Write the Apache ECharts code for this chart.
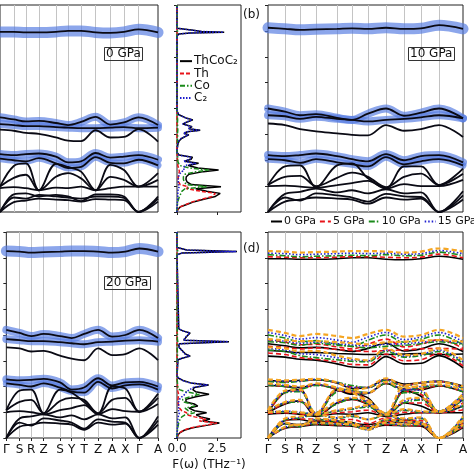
<!DOCTYPE html>
<html><head><meta charset="utf-8">
<script src="https://cdn.jsdelivr.net/npm/echarts@6/dist/echarts.min.js"></script>
<style>html,body{margin:0;padding:0;background:#fff}#c{width:474px;height:474px}</style>
</head><body><div id="c"></div>
<script>
// k-path
const kLabels = ['Γ','S','R','Z','S','Y','T','Z','A','X','Γ','A'];
const kPos = [0,17,32,48,69,84,100,118,136,153,171,195];
const freqMin = 0, freqMax = 40, freqStep = 5;
const dosTicks = [0, 2.5];

// phonon branches (values at each k-point), one array per branch
const bands0 = [
 [34.8,34.8,34.7,34.7,34.8,35.0,35.0,34.7,34.6,34.8,35.3,34.7],
 [18.3,17.9,17.5,17.6,17.2,16.8,17.4,18.4,16.9,17.3,18.3,16.8],
 [17.0,16.8,16.6,16.6,16.4,16.3,16.2,16.2,16.3,16.4,16.2,16.3],
 [15.9,15.7,15.3,15.1,14.4,13.8,13.7,15.8,14.4,14.5,16.0,13.6],
 [11.2,11.0,11.2,11.3,10.7,9.6,9.8,11.4,10.5,10.7,11.0,10.1],
 [10.3,10.0,9.8,10.4,9.4,8.5,8.7,10.6,9.5,9.4,10.1,9.0],
 [4.9,8.9,9.4,4.2,9.3,8.7,7.8,4.2,9.1,8.1,4.9,7.5],
 [4.9,6.6,7.2,4.2,6.8,7.5,6.5,4.2,6.8,6.2,4.9,6.2],
 [4.6,4.8,4.6,4.2,4.7,4.6,4.9,4.2,4.6,4.9,4.9,4.9],
 [0,3.4,3.6,3.0,3.3,3.0,2.1,3.4,3.4,3.0,0,3.0],
 [0,2.8,2.6,3.3,3.0,2.8,2.6,3.0,3.0,2.7,0,2.6],
 [0,1.9,2.2,2.6,2.4,2.3,2.0,2.5,2.4,2.3,0,2.0]
];
const bands5 = [
 [35.2,35.1,35.0,35.0,35.1,35.2,35.2,35.1,35.0,35.1,35.7,35.0],
 [19.1,18.6,18.1,18.2,17.7,17.3,18.2,19.2,17.7,18.2,19.1,17.4],
 [17.8,17.6,17.3,17.5,17.2,17.0,16.8,17.0,17.1,17.3,17.4,17.2],
 [16.5,16.2,15.6,15.3,14.8,14.3,14.2,16.3,15.0,15.2,16.4,14.0],
 [11.1,10.9,11.1,11.3,10.7,9.9,9.8,11.3,10.2,10.7,11.0,9.8],
 [10.2,10.0,9.6,10.3,9.5,8.8,8.7,10.6,9.3,9.6,10.1,9.0],
 [5.0,8.8,9.2,4.5,9.1,9.0,7.2,4.4,9.0,8.5,5.0,8.0],
 [5.0,6.7,7.1,4.6,6.7,7.5,6.6,4.5,6.8,6.8,5.0,6.8],
 [4.8,4.9,4.7,4.4,4.9,5.1,5.4,4.3,5.0,4.9,4.9,5.5],
 [0,3.4,3.7,3.7,3.5,3.6,2.8,3.9,3.5,3.4,0,3.5],
 [0,2.8,2.4,3.4,3.1,2.8,2.3,3.2,3.0,2.8,0,2.9],
 [0,1.9,2.3,2.7,2.5,2.3,1.8,2.6,2.4,2.4,0,2.2]
];
const bands10 = [
 [35.6,35.4,35.2,35.3,35.4,35.5,35.4,35.6,35.4,35.5,36.1,35.4],
 [20.0,19.4,18.7,18.9,18.2,17.8,19.0,20.0,18.6,19.2,20.0,18.1],
 [18.7,18.5,18.0,18.4,18.0,17.8,17.5,17.8,18.0,18.3,18.7,18.1],
 [17.1,16.8,16.0,15.6,15.2,14.9,14.8,16.8,15.7,16.0,16.8,14.5],
 [11.0,10.8,11.0,11.3,10.8,10.2,9.8,11.2,10.0,10.8,11.0,9.6],
 [10.2,10.0,9.5,10.2,9.6,9.2,8.8,10.6,9.2,9.8,10.2,9.0],
 [5.2,8.8,9.0,4.8,9.0,9.4,6.5,4.6,8.8,8.8,5.2,8.4],
 [5.2,6.8,7.0,5.0,6.6,7.6,6.8,4.8,6.8,7.4,5.2,7.4],
 [5.0,5.1,4.9,4.7,5.2,5.6,6.0,4.5,5.4,5.0,5.0,6.2],
 [0,3.5,3.9,4.5,3.8,4.2,3.6,4.4,3.6,3.8,0,4.0],
 [0,2.8,2.2,3.6,3.2,2.8,2.0,3.5,3.0,2.9,0,3.2],
 [0,2.0,2.4,2.8,2.6,2.4,1.6,2.8,2.4,2.6,0,2.4]
];
const bands15 = [
 [35.9,35.8,35.6,35.7,35.8,35.9,35.8,35.9,35.7,35.8,36.4,35.8],
 [20.5,19.9,19.2,19.5,19.0,18.6,19.6,20.5,19.1,19.6,20.5,18.7],
 [19.0,18.8,18.4,18.6,18.3,18.1,17.9,18.2,18.3,18.6,18.9,18.4],
 [17.4,17.1,16.4,16.2,15.6,15.2,15.0,17.1,15.9,16.2,17.1,14.8],
 [11.2,11.0,11.1,11.4,10.8,9.8,9.8,11.4,10.1,10.8,11.0,9.8],
 [10.4,10.2,9.8,10.4,9.7,9.1,8.8,10.8,9.4,10.0,10.3,9.2],
 [5.3,9.0,9.2,4.8,9.2,9.1,6.8,4.7,9.4,9.2,5.2,8.5],
 [5.3,6.9,7.2,4.9,6.9,7.7,7.1,4.8,7.1,7.6,5.2,7.6],
 [5.0,5.2,5.0,4.7,5.3,5.7,6.2,4.6,5.5,5.1,5.0,6.4],
 [0,3.6,4.0,4.6,3.9,4.3,3.6,4.5,3.7,3.9,0,4.1],
 [0,2.9,2.3,3.7,3.3,2.9,1.9,3.6,3.1,3.0,0,3.3],
 [0,2.1,2.5,2.9,2.7,2.5,1.6,2.9,2.5,2.7,0,2.5]
];
const bands20 = [
 [36.3,36.2,36.0,36.1,36.2,36.3,36.3,36.2,36.0,36.2,36.8,36.2],
 [21.0,20.4,19.8,20.2,19.8,19.4,20.2,21.0,19.7,20.0,21.0,19.4],
 [19.2,19.0,18.8,18.8,18.6,18.4,18.2,18.6,18.7,18.9,19.0,18.7],
 [17.6,17.4,16.8,16.9,16.0,15.4,15.1,17.4,16.1,16.3,17.4,15.1],
 [11.4,11.2,11.3,11.5,10.8,9.4,9.8,11.6,10.2,10.8,10.9,10.0],
 [10.6,10.3,10.0,10.6,9.8,9.0,8.8,10.9,9.6,10.2,10.4,9.4],
 [5.4,9.2,9.4,4.8,9.4,8.8,7.0,4.8,10.0,9.6,5.1,8.6],
 [5.4,7.0,7.4,4.8,7.2,7.8,7.4,4.8,7.4,7.8,5.1,7.8],
 [5.0,5.2,5.0,4.6,5.4,5.8,6.4,4.6,5.6,5.2,5.1,6.6],
 [0,3.8,4.2,4.6,4.0,4.4,3.6,4.6,3.8,4.0,0,4.2],
 [0,3.0,2.4,3.8,3.4,3.0,1.8,3.6,3.2,3.0,0,3.4],
 [0,2.2,2.6,3.0,2.8,2.6,1.6,3.0,2.6,2.8,0,2.6]
];
// branches carrying strong C2 weight (fat bands) and their widths
const fatBranches = [0,1,2,4,5];
const fatWidths = [11,8,8,8,7];

// phonon DOS, 0 GPa
const dosW0 = [0,0.5,1,1.5,2,2.5,3,3.3,3.6,4,4.5,4.9,5.3,5.8,6.3,6.8,7.3,7.8,8.1,8.5,9,9.4,9.8,10.2,10.6,11,11.5,12,
  13.3,13.7,14.2,14.6,14.9,15.2,15.5,15.8,16.1,16.5,17.0,17.4,17.8,18.1,18.4,18.8,19.5,
  34.0,34.2,34.4,34.6,34.75,34.9,35.1,35.3,35.5,40];
const dosTot0 = [0,0.05,0.22,0.65,1.08,1.74,2.4,2.35,2.7,1.86,1.17,2.75,0.9,0.63,0.56,0.58,0.75,1.65,2.6,1.3,0.7,1.35,0.48,0.88,0.97,0.13,0,0,
  0.07,0.13,0.28,0.54,0.74,0.43,0.65,1.45,0.74,0.94,0.38,0.63,0.99,0.63,0.52,0.11,0,
  0,0,0.1,0.82,2.95,1.53,1.02,0.92,0,0];
const dosTh0 = [0,0.05,0.2,0.6,1.0,1.6,2.2,2.1,2.4,1.5,0.6,0.7,0.2,0.1,0.08,0.08,0.1,0.15,0.15,0.1,0.05,0.05,0.03,0.03,0.02,0.01,0,0,
  0,0,0,0,0,0,0,0,0,0,0,0,0,0,0,0,0,
  0,0,0,0,0,0,0,0,0,0];
const dosCo0 = [0,0,0.01,0.03,0.05,0.1,0.15,0.2,0.25,0.3,0.5,1.9,0.6,0.45,0.4,0.4,0.5,1.2,2.0,0.8,0.15,0.1,0.05,0.05,0.05,0.02,0,0,
  0.02,0.03,0.03,0.04,0.04,0.03,0.05,0.05,0.04,0.04,0.03,0.03,0.04,0.03,0.02,0.01,0,
  0,0,0,0.02,0.05,0.03,0.02,0.02,0,0];
const dosC0 = [0,0,0.01,0.02,0.03,0.04,0.05,0.05,0.05,0.06,0.07,0.15,0.1,0.08,0.08,0.1,0.15,0.3,0.45,0.4,0.5,1.2,0.4,0.8,0.9,0.1,0,0,
  0.05,0.1,0.25,0.5,0.7,0.4,0.6,1.4,0.7,0.9,0.35,0.6,0.95,0.6,0.5,0.1,0,
  0,0,0.1,0.8,2.9,1.5,1.0,0.9,0,0];

// phonon DOS, 20 GPa
const dosW20 = [0,0.5,1,1.5,2,2.5,2.9,3.3,3.7,4.1,4.5,4.9,5.3,5.8,6.2,6.6,7.0,7.5,8.0,8.5,9.0,9.4,9.8,10.3,10.7,11.1,11.6,12.0,
  15.2,15.5,15.9,16.3,16.6,17.0,17.5,17.9,18.3,18.7,19.0,19.3,19.8,20.4,20.8,21.2,21.5,
  35.6,35.9,36.2,36.5,36.8,37.0,40];
const dosTot20 = [0,0.05,0.17,0.45,0.98,1.93,2.65,1.6,2.06,1.48,1.2,1.85,1.1,0.75,1.3,1.08,0.56,0.56,1.18,2.0,1.16,0.99,1.08,1.98,0.85,0.43,0.1,0,
  0.06,0.32,0.83,0.53,0.63,0.32,0.16,0.11,0.16,3.25,0.42,0.32,0.63,0.82,0.37,0.11,0,
  0,0.31,3.75,0.62,0.52,0,0];
const dosTh20 = [0,0.05,0.15,0.4,0.9,1.8,2.5,1.4,1.8,1.1,0.6,0.6,0.3,0.15,0.1,0.08,0.06,0.06,0.08,0.1,0.06,0.04,0.03,0.03,0.02,0.01,0,0,
  0,0,0,0,0,0,0,0,0,0,0,0,0,0,0,0,0,
  0,0,0,0,0,0,0];
const dosCo20 = [0,0,0.01,0.03,0.05,0.08,0.1,0.15,0.2,0.3,0.5,1.1,0.7,0.5,1.1,0.9,0.4,0.35,0.8,1.4,0.5,0.15,0.05,0.05,0.03,0.02,0,0,
  0.01,0.02,0.03,0.03,0.03,0.02,0.01,0.01,0.01,0.05,0.02,0.02,0.03,0.02,0.02,0.01,0,
  0,0.01,0.05,0.02,0.02,0,0];
const dosC20 = [0,0,0.01,0.02,0.03,0.05,0.05,0.05,0.06,0.08,0.1,0.15,0.1,0.1,0.1,0.1,0.1,0.15,0.3,0.5,0.6,0.8,1.0,1.9,0.8,0.4,0.1,0,
  0.05,0.3,0.8,0.5,0.6,0.3,0.15,0.1,0.15,3.2,0.4,0.3,0.6,0.8,0.35,0.1,0,
  0,0.3,3.7,0.6,0.5,0,0];

const pressureNames = ['0 GPa','5 GPa','10 GPa','15 GPa','20 GPa'];
const dosNames = ['ThCoC\u2082','Th','Co','C\u2082'];

const FONT = 'DejaVu Sans';
const chart = echarts.init(document.getElementById('c'), null, {renderer:'canvas'});

// layout: 0 a, 1 dos top, 2 b, 3 c, 4 dos bottom, 5 d
const grids = [
  {left:-37, top:5, width:195, height:207},
  {left:177, top:5, width:64, height:207},
  {left:268, top:5, width:195, height:207},
  {left:-37, top:232, width:195, height:206},
  {left:177, top:232, width:64, height:206},
  {left:268, top:232, width:195, height:206}
].map(g => Object.assign(g, {show:true, borderColor:'#222', borderWidth:1, backgroundColor:'transparent'}));

const bandGrids = [0,2,3,5];
const dosGrids = [1,4];
const bottomGrids = [3,4,5];

const xAxes = grids.map((g, i) => {
  const isDos = dosGrids.includes(i);
  const bottom = bottomGrids.includes(i);
  if (isDos) {
    return {type:'value', gridIndex:i, min:0, max:4,
      axisLine:{show:false}, splitLine:{show:false},
      axisTick:{show:true, customValues:dosTicks, length:3, lineStyle:{color:'#222'}},
      axisLabel:{show:bottom, customValues:dosTicks, formatter:v=>v.toFixed(1), fontFamily:FONT, fontSize:12, color:'#111', margin:5},
      name: bottom ? 'F(\u03c9) (THz\u207b\u00b9)' : '', nameLocation:'middle', nameGap:21,
      nameTextStyle:{fontFamily:FONT, fontSize:12, color:'#111'}};
  }
  return {type:'value', gridIndex:i, min:kPos[0], max:kPos[kPos.length-1],
    axisLine:{show:false}, splitLine:{show:false},
    axisTick:{show:bottom, customValues:kPos, length:3, lineStyle:{color:'#222'}},
    axisLabel:{show:bottom, customValues:kPos, formatter:v=>kLabels[kPos.indexOf(v)], fontFamily:FONT, fontSize:12, color:'#111', margin:6}};
});
const yAxes = grids.map((g, i) => ({type:'value', gridIndex:i, min:freqMin, max:freqMax, interval:freqStep,
  axisLine:{show:false}, splitLine:{show:false},
  axisTick:{show:true, length:3, lineStyle:{color:'#222'}}, axisLabel:{show:false}}));

const series = [];
// vertical k-point guide lines
bandGrids.forEach(g => {
  series.push({type:'line', xAxisIndex:g, yAxisIndex:g, data:[], z:1, silent:true,
    markLine:{silent:true, symbol:'none', z:1, animation:false, label:{show:false},
      lineStyle:{color:'#c4c4c4', width:1, type:'solid'},
      data:kPos.slice(1,-1).map(k=>({xAxis:k}))}});
});
function branchData(br){ return kPos.map((k,i)=>[k, br[i]]); }
// fat bands + black branches for panels a,b,c
[[0,bands0],[2,bands10],[3,bands20]].forEach(([g,bands]) => {
  fatBranches.forEach((bi, j) => {
    series.push({type:'line', name:'fat', xAxisIndex:g, yAxisIndex:g, data:branchData(bands[bi]), smooth:0.35,
      symbol:'none', silent:true, z:2, lineStyle:{color:'rgba(86,124,226,0.68)', width:fatWidths[j], cap:'round', join:'round'}});
  });
  bands.forEach(br => {
    series.push({type:'line', name:'band', xAxisIndex:g, yAxisIndex:g, data:branchData(br), smooth:0.35,
      symbol:'none', silent:true, z:3, lineStyle:{color:'#0a0a14', width:1.8}});
  });
});
// panel d: all pressures
const pStyles = [
  {color:'#000000', width:1.6, type:'solid'},
  {color:'#e8141a', width:1.6, type:[5,3]},
  {color:'#1a8a1a', width:1.6, type:[6,2,1.5,2]},
  {color:'#2020d0', width:1.6, type:[1.5,2]},
  {color:'#f5a623', width:2.2, type:[5,3]}
];
[bands0,bands5,bands10,bands15,bands20].forEach((bands, p) => {
  bands.forEach(br => {
    series.push({type:'line', name:pressureNames[p], xAxisIndex:5, yAxisIndex:5, data:branchData(br), smooth:0.35,
      symbol:'none', silent:true, z:3+p*0.1, lineStyle:pStyles[p], itemStyle:{color:pStyles[p].color}});
  });
});
// DOS panels
const dosStyles = [
  {color:'#000000', width:1.5, type:'solid'},
  {color:'#e8141a', width:1.5, type:[4,2]},
  {color:'#1a8a1a', width:1.5, type:[5,2,1.5,2]},
  {color:'#1c1ccc', width:1.5, type:[1.5,1.5]}
];
[[1,dosW0,[dosTot0,dosTh0,dosCo0,dosC0]],[4,dosW20,[dosTot20,dosTh20,dosCo20,dosC20]]].forEach(([g,w,comps]) => {
  comps.forEach((vals, c) => {
    series.push({type:'line', name:dosNames[c], xAxisIndex:g, yAxisIndex:g, data:w.map((om,i)=>[vals[i], om]),
      symbol:'none', silent:true, z:3+c*0.1, lineStyle:dosStyles[c], itemStyle:{color:dosStyles[c].color}});
  });
});

const boxText = (text, left, top) => ({text, left, top, padding:[1,2], borderColor:'#333', borderWidth:1,
  textStyle:{fontFamily:FONT, fontSize:12, fontWeight:'normal', color:'#111', lineHeight:12}});
const plainText = (text, left, top) => ({text, left, top, padding:0,
  textStyle:{fontFamily:FONT, fontSize:12, fontWeight:'normal', color:'#111'}});

const hiddenSymbol = {color:'rgba(0,0,0,0)', borderWidth:0, borderColor:'rgba(0,0,0,0)'};
chart.setOption({
  animation:false,
  backgroundColor:'#ffffff',
  grid:grids, xAxis:xAxes, yAxis:yAxes, series,
  title:[boxText('0 GPa',104,47), boxText('10 GPa',408,47), boxText('20 GPa',104,276),
         plainText('(b)',243,9), plainText('(d)',243,243)],
  legend:[
    {data:dosNames, orient:'vertical', left:179, top:55, itemWidth:12, itemHeight:8, itemGap:0, padding:0,
     itemStyle:hiddenSymbol, selectedMode:false,
     textStyle:{fontFamily:FONT, fontSize:12, color:'#111', lineHeight:12.3, padding:[0,0,0,-3]}},
    {data:pressureNames, orient:'horizontal', left:270, top:216, width:400, itemWidth:11, itemHeight:8, itemGap:3, padding:0,
     itemStyle:hiddenSymbol, selectedMode:false,
     textStyle:{fontFamily:FONT, fontSize:11, color:'#111', padding:[0,0,0,-3]}}
  ]
});
</script></body></html>
